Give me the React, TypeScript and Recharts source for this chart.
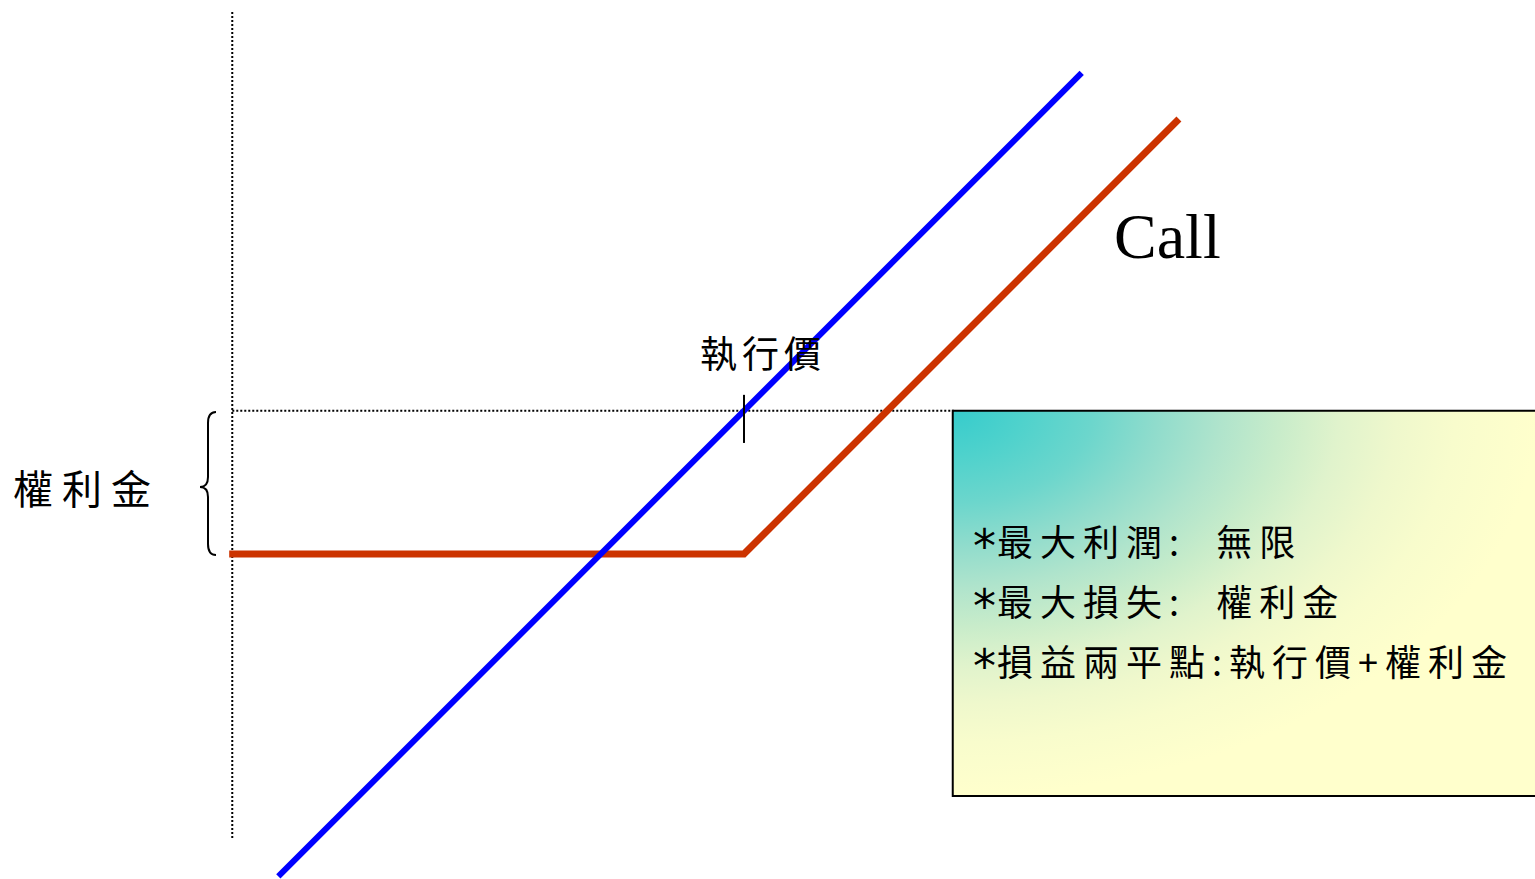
import * as React from "react"
import { LineChart, Line, XAxis, YAxis, ReferenceLine, ReferenceArea } from "recharts"

// underlying price vs. profit, strike = 100, premium = 28
const strike = 100
const premium = 28

const stockLine = [
  { price: 9, profit: -91 },
  { price: 166, profit: 66 },
]

const callLine = [
  { price: -0.6, profit: -28 },
  { price: 100, profit: -28 },
  { price: 185, profit: 57 },
]

const boxLines = ["最大利潤:  無限", "最大損失:  權利金", "損益兩平點:執行價+權利金"]

const gradStops = [
  [0, "#36cccc"],
  [0.12, "#4fd2cc"],
  [0.24, "#6cd6cc"],
  [0.35, "#90dccc"],
  [0.46, "#b0e4cc"],
  [0.56, "#c8ecca"],
  [0.66, "#e0f3cc"],
  [0.76, "#eff8cc"],
  [0.86, "#f8fccc"],
  [1, "#ffffcc"],
] as const

const cjk = '"Noto Sans CJK TC", "Noto Sans CJK SC", sans-serif'

const label = (left: number, top: number, size: number, spacing: number): React.CSSProperties => ({
  position: "absolute",
  left,
  top,
  fontSize: size,
  lineHeight: 1,
  letterSpacing: spacing,
  fontFamily: cjk,
  color: "#000",
  whiteSpace: "pre",
})

const star: React.CSSProperties = {
  fontFamily: '"DejaVu Sans", sans-serif',
  fontSize: 46,
  lineHeight: 0,
  letterSpacing: 1,
  position: "relative",
  top: 6,
}

export default function App() {
  return (
    <div style={{ position: "absolute", left: 0, top: 0, width: 1535, height: 879, overflow: "hidden", background: "#fff" }}>
      <LineChart width={1535} height={879} margin={{ top: 0, right: 3, bottom: 0, left: 2 }}>
        <defs>
          <radialGradient id="boxGrad" cx="0" cy="0" r="1">
            {gradStops.map(([o, c]) => (
              <stop key={o} offset={o} stopColor={c} />
            ))}
          </radialGradient>
        </defs>
        <XAxis type="number" dataKey="price" domain={[-45, 254]} hide allowDataOverflow />
        <YAxis type="number" dataKey="profit" domain={[-91.5, 80.25]} hide allowDataOverflow />
        <ReferenceLine
          segment={[{ x: 0, y: 77.9 }, { x: 0, y: -83.9 }]}
          stroke="#000"
          strokeWidth={2}
          strokeDasharray="2 2"
        />
        <ReferenceLine
          segment={[{ x: 0, y: 0 }, { x: 141, y: 0 }]}
          stroke="#000"
          strokeWidth={2}
          strokeDasharray="2 2"
        />
        <ReferenceArea
          x1={140.8}
          x2={255}
          y1={0}
          y2={-75.3}
          fill="url(#boxGrad)"
          fillOpacity={1}
          stroke="#000"
          strokeWidth={2}
          ifOverflow="visible"
        />
        <Line
          data={callLine}
          dataKey="profit"
          type="linear"
          stroke="#cc3300"
          strokeWidth={7}
          dot={false}
          isAnimationActive={false}
        />
        <Line
          data={stockLine}
          dataKey="profit"
          type="linear"
          stroke="#0000ff"
          strokeWidth={6}
          dot={false}
          isAnimationActive={false}
        />
        <ReferenceLine
          segment={[{ x: strike, y: 3.1 }, { x: strike, y: -6.3 }]}
          stroke="#000"
          strokeWidth={2}
        />
      </LineChart>

      {/* brace for the premium */}
      <svg width={1535} height={879} style={{ position: "absolute", left: 0, top: 0, pointerEvents: "none" }}>
        <path
          d="M216,412 Q208,412 208,423 L208,477 Q208,487 200,487 Q208,487 208,497 L208,544 Q208,555 216,555"
          fill="none"
          stroke="#000"
          strokeWidth={2}
        />
      </svg>

      <div style={label(700, 334, 37, 5)}>執行價</div>
      <div style={label(13, 467, 40, 9)}>權利金</div>
      <div
        style={{
          position: "absolute",
          left: 1114,
          top: 205,
          fontSize: 64,
          lineHeight: 1,
          fontFamily: '"Liberation Serif", "Times New Roman", serif',
          color: "#000",
        }}
      >
        Call
      </div>
      {boxLines.map((t, i) => (
        <div key={i} style={label(973, 522 + i * 60, 36, 7)}>
          <span style={star}>*</span>
          {t}
        </div>
      ))}
    </div>
  )
}
